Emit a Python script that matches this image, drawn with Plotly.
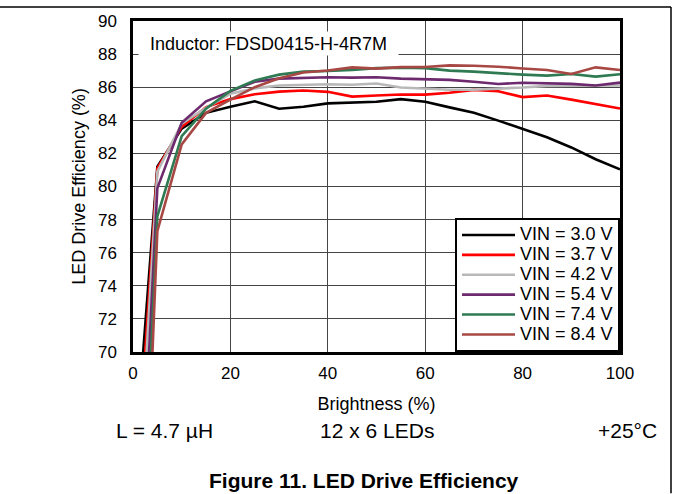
import plotly.graph_objects as go

brightness = [1, 5, 10, 15, 20, 25, 30, 35, 40, 45, 50, 55, 60, 65, 70, 75, 80, 85, 90, 95, 100]

eff_30 = [65.8, 81.2, 83.5, 84.45, 84.82, 85.15, 84.7, 84.82, 85.02, 85.07, 85.12, 85.28, 85.12, 84.78, 84.45, 83.98, 83.5, 82.98, 82.36, 81.65, 81.04]
eff_37 = [63.3, 81.1, 83.6, 84.8, 85.28, 85.57, 85.73, 85.8, 85.72, 85.43, 85.5, 85.56, 85.55, 85.66, 85.84, 85.76, 85.4, 85.5, 85.25, 84.98, 84.71]
eff_42 = [61.1, 80.9, 83.8, 84.75, 85.6, 85.93, 86.1, 86.15, 86.18, 86.15, 86.22, 85.98, 85.9, 85.85, 85.85, 85.9, 85.98, 86.08, 86.1, 86.1, 86.1]
eff_54 = [56.6, 79.9, 83.85, 85.15, 85.75, 86.33, 86.52, 86.58, 86.6, 86.58, 86.6, 86.52, 86.48, 86.44, 86.33, 86.19, 86.27, 86.22, 86.2, 86.1, 86.28]
eff_74 = [53.0, 78.2, 83.04, 84.7, 85.78, 86.4, 86.76, 86.94, 86.98, 87.04, 87.15, 87.18, 87.15, 87.0, 86.94, 86.84, 86.76, 86.7, 86.8, 86.64, 86.78]
eff_84 = [48.1, 77.3, 82.54, 84.45, 85.25, 86.0, 86.54, 86.89, 87.01, 87.2, 87.12, 87.21, 87.22, 87.32, 87.3, 87.24, 87.13, 87.04, 86.8, 87.2, 87.04]

series_names = ["VIN = 3.0 V", "VIN = 3.7 V", "VIN = 4.2 V", "VIN = 5.4 V", "VIN = 7.4 V", "VIN = 8.4 V"]
series_values = [eff_30, eff_37, eff_42, eff_54, eff_74, eff_84]
series_colors = ["#000000", "#FF0000", "#B8B8B8", "#6E2A6E", "#2F7A52", "#A84844"]

x_ticks = [0, 20, 40, 60, 80, 100]
y_ticks = [70, 72, 74, 76, 78, 80, 82, 84, 86, 88, 90]

FONT = "Liberation Sans, Arial, sans-serif"

fig = go.Figure()
for name, vals, col in zip(series_names, series_values, series_colors):
    fig.add_trace(go.Scatter(x=brightness, y=vals, mode="lines",
                             name='<span style="font-size:18px">' + name + '</span>',
                             line=dict(color=col, width=2.6)))

# plot area in pixels: x 133..620, y 19..352
L, R, T, B = 133, 620, 19, 352
W, H = R - L, B - T
def px(xp):
    return (xp - L) / W
def py(yp):
    return (B - yp) / H

fig.update_layout(
    width=674, height=494,
    margin=dict(l=L, r=674 - R, t=T, b=494 - B, pad=0),
    paper_bgcolor="white", plot_bgcolor="white",
    font=dict(family=FONT, color="black", size=17),
    showlegend=True,
    legend=dict(x=1, y=0, xanchor="right", yanchor="bottom",
                bgcolor="white", bordercolor="black", borderwidth=2,
                font=dict(size=13, family=FONT), itemwidth=53,
                tracegroupgap=0),
    xaxis=dict(range=[0, 100], tickvals=x_ticks, showgrid=True, gridcolor="#444444", gridwidth=1,
               showline=True, linecolor="black", linewidth=2.5, mirror=True, ticks="",
               ticklabelstandoff=4, tickfont=dict(size=17),
               title=dict(text="Brightness (%)", font=dict(size=18), standoff=16), zeroline=False),
    yaxis=dict(range=[70, 90], tickvals=y_ticks, showgrid=True, gridcolor="#444444", gridwidth=1,
               showline=True, linecolor="black", linewidth=2.5, mirror=True, ticks="",
               ticklabelstandoff=10, tickfont=dict(size=17),
               title=dict(text="LED Drive Efficiency (%)", font=dict(size=18), standoff=8), zeroline=False),
)

fig.add_annotation(xref="paper", yref="paper", x=px(268), y=py(41.5), xanchor="center", yanchor="middle",
                   text="Inductor: FDSD0415-H-4R7M", showarrow=False, bgcolor="white",
                   width=257, height=21, borderpad=1, font=dict(size=18))

fig.add_annotation(xref="paper", yref="paper", x=px(164), y=py(431), xanchor="center", yanchor="middle",
                   text="L = 4.7 µH", showarrow=False, font=dict(size=21))
fig.add_annotation(xref="paper", yref="paper", x=px(377), y=py(431), xanchor="center", yanchor="middle",
                   text="12 x 6 LEDs", showarrow=False, font=dict(size=21))
fig.add_annotation(xref="paper", yref="paper", x=px(627), y=py(431), xanchor="center", yanchor="middle",
                   text="+25°C", showarrow=False, font=dict(size=21))
fig.add_annotation(xref="paper", yref="paper", x=px(364), y=py(481), xanchor="center", yanchor="middle",
                   text="<b>Figure 11. LED Drive Efficiency</b>", showarrow=False, font=dict(size=21))

# page frame lines
fig.add_shape(type="line", xref="paper", yref="paper", x0=px(0), x1=px(671), y0=py(5), y1=py(5),
              line=dict(color="black", width=1.5))
fig.add_shape(type="line", xref="paper", yref="paper", x0=px(671), x1=px(671), y0=py(5), y1=py(494),
              line=dict(color="black", width=1.5))

fig.write_html("out.html", config={"displayModeBar": False},
               post_script="document.body.style.margin='0px';")
